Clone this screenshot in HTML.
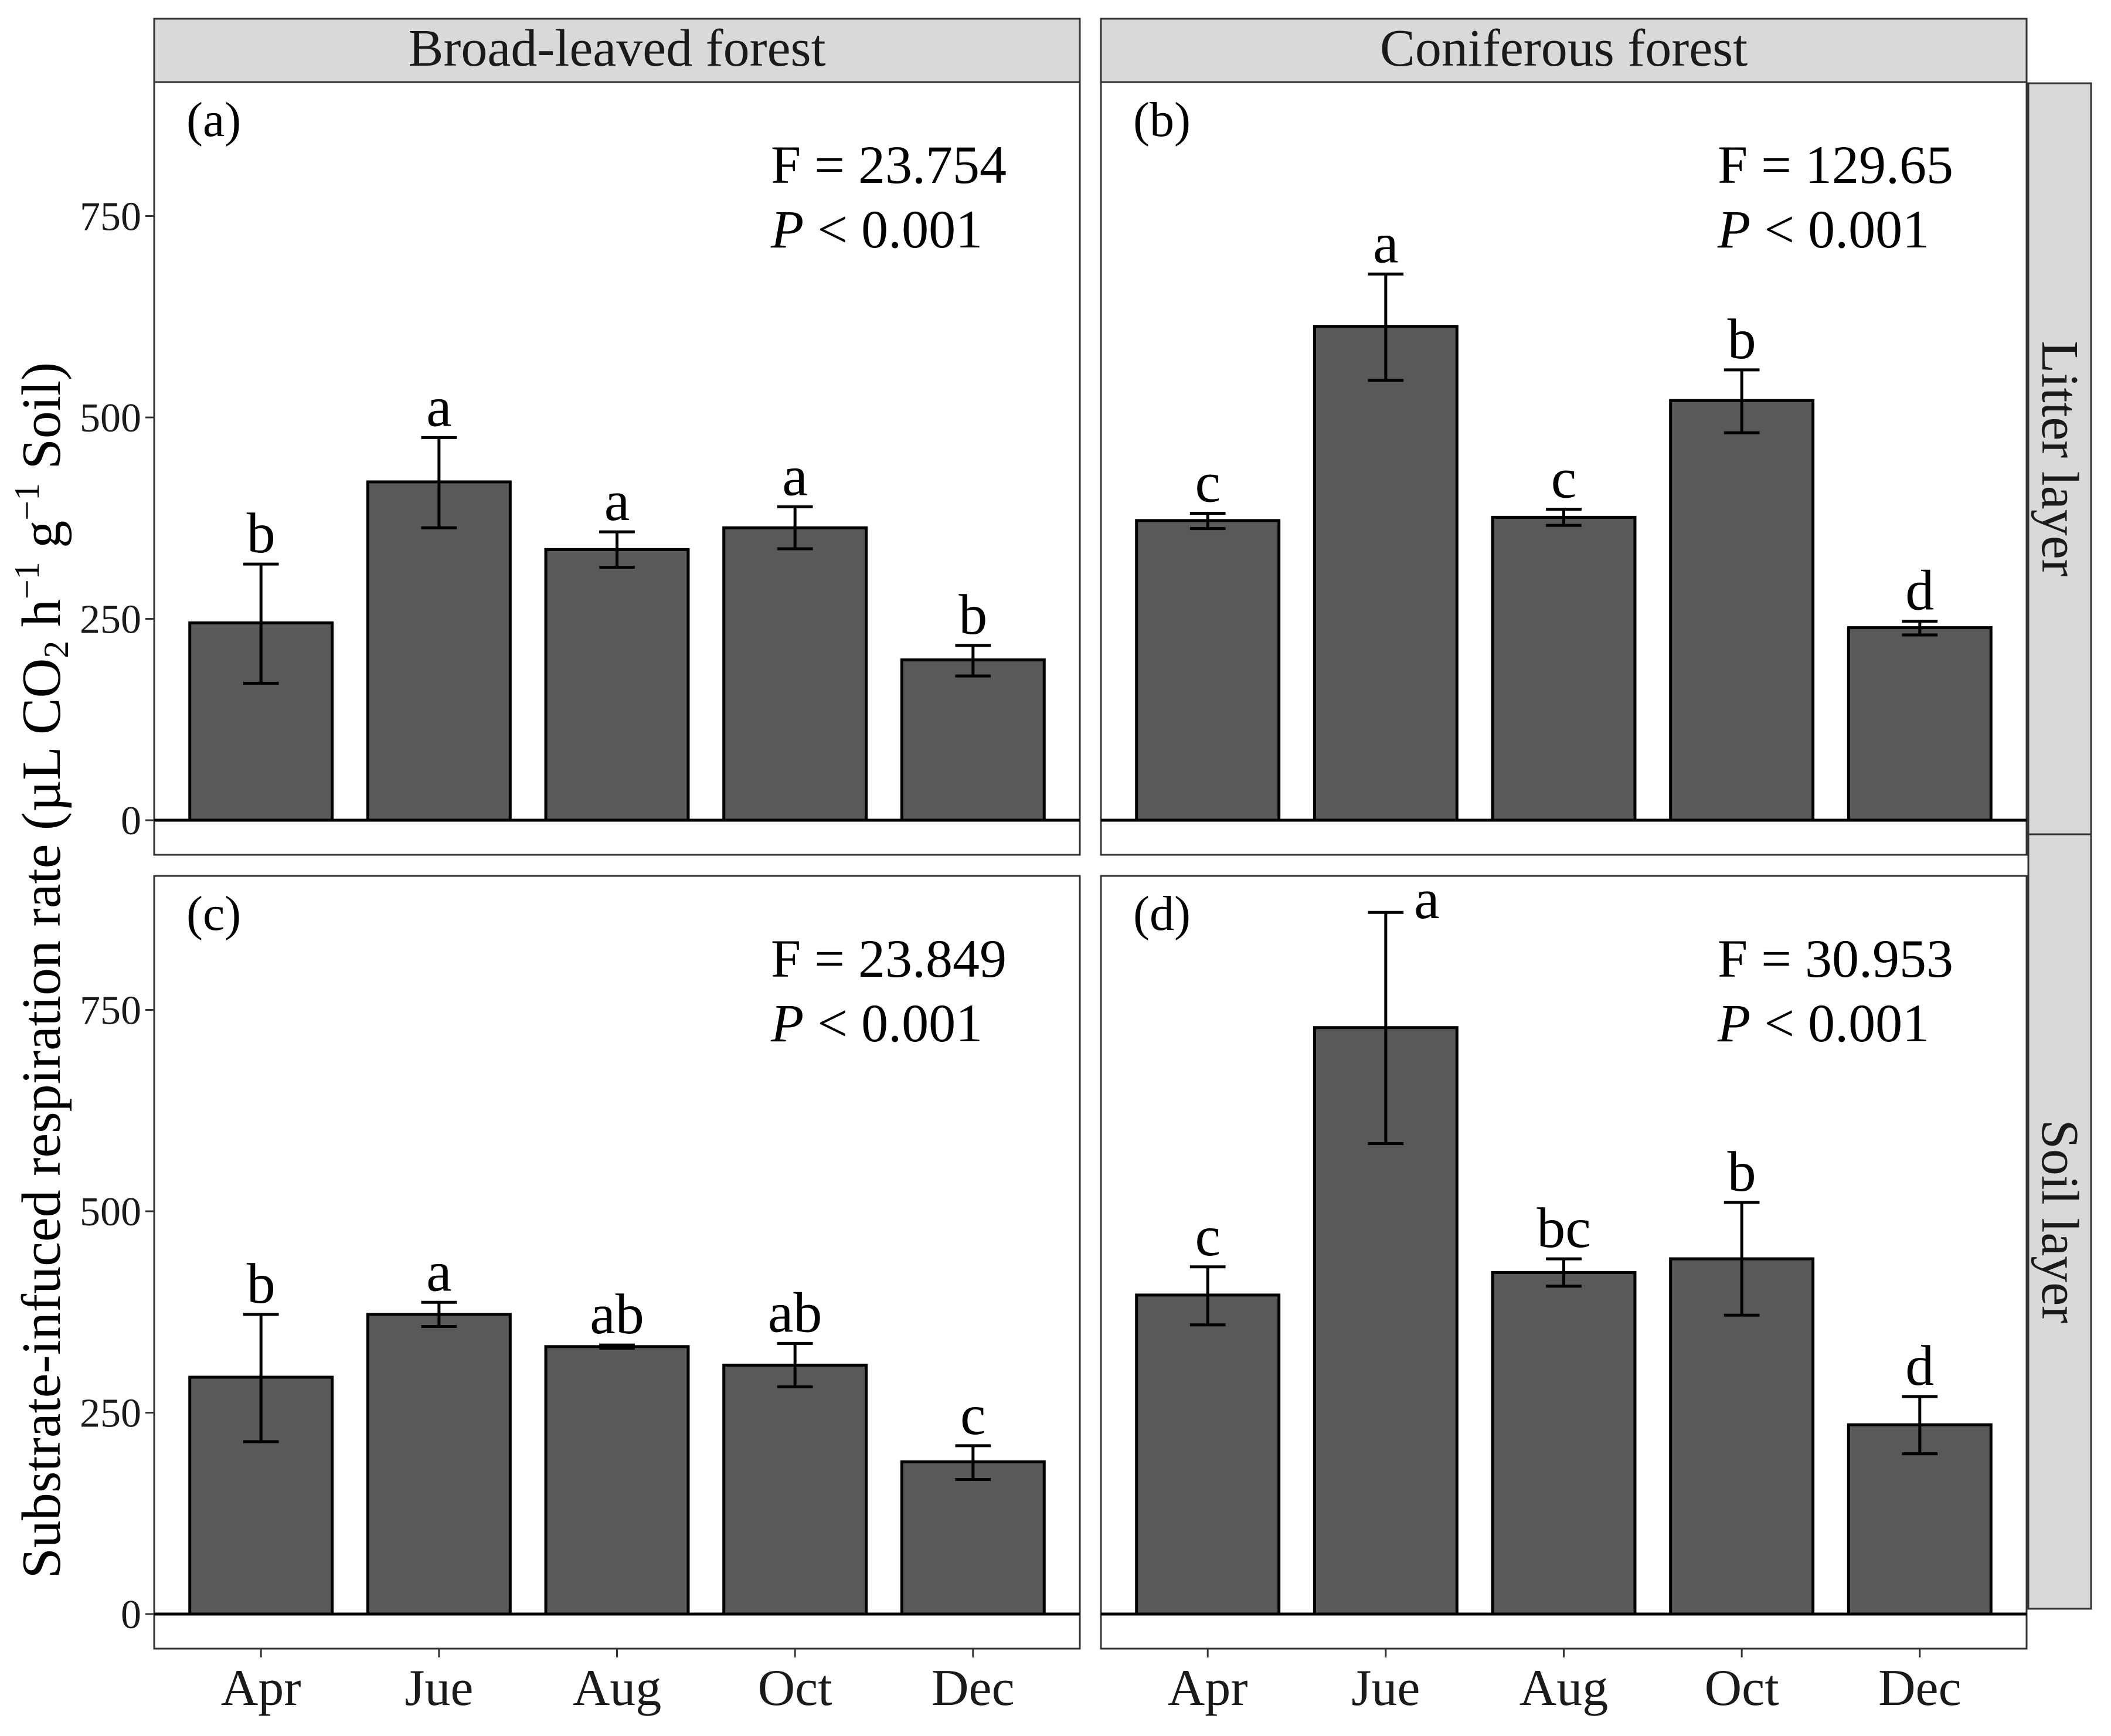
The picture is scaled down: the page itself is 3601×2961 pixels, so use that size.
<!DOCTYPE html>
<html><head><meta charset="utf-8"><style>
body{margin:0;background:#fff}
svg{display:block;font-family:"Liberation Serif",serif}
</style></head><body>
<svg id="chart" width="3601" height="2961" viewBox="0 0 3601 2961" xmlns="http://www.w3.org/2000/svg">
<g>
<text x="0" y="0" transform="translate(102,1655) rotate(-90)" text-anchor="middle" font-size="94" fill="#000">Substrate-infuced respiration rate (µL CO<tspan font-size="60" dy="14">2</tspan><tspan dy="-14"> h</tspan><tspan font-size="60" dy="-36">−1</tspan><tspan dy="36"> g</tspan><tspan font-size="60" dy="-36">−1</tspan><tspan dy="36"> Soil)</tspan></text>
</g>
</svg>
<script>
const categories=["Apr","Jue","Aug","Oct","Dec"];
const meanA=[245,420,336,363,199], loA=[170,363,314,337,179], hiA=[318,475,358,389,217];
const labA=["b","a","a","a","b"];
const meanB=[372,613,376,521,239], loB=[362,546,366,481,230], hiB=[381,678,386,559,247];
const labB=["c","a","c","b","d"];
const meanC=[294,372,332,309,189], loC=[214,357,330,282,167], hiC=[372,387,334,336,209];
const labC=["b","a","ab","ab","c"];
const meanD=[396,728,424,441,235], loD=[359,584,407,371,199], hiD=[431,871,441,511,270];
const labD=["c","a","bc","b","d"];
const yTicks=[0,250,500,750];
const panelTags=["(a)","(b)","(c)","(d)"];
const fStats=["F = 23.754","F = 129.65","F = 23.849","F = 30.953"];
const colStrips=["Broad-leaved forest","Coniferous forest"];
const rowStrips=["Litter layer","Soil layer"];

const NS="http://www.w3.org/2000/svg";
const svg=document.getElementById("chart");
function mk(tag,attrs,parent){const e=document.createElementNS(NS,tag);for(const k in attrs)e.setAttribute(k,attrs[k]);(parent||svg).appendChild(e);return e;}
const PX=[263,1878], PW=1579, PY=[140,1494], PH=1318, ZERO_OFF=1259, PPU=1.374;
const unit=PW/5.2;
function xScale(col,i){return PX[col]+(0.6+i)*unit;}
function yScale(row,v){return PY[row]+ZERO_OFF-v*PPU;}

const panels=[[meanA,loA,hiA,labA],[meanB,loB,hiB,labB],[meanC,loC,hiC,labC],[meanD,loD,hiD,labD]];
colStrips.forEach((t,c)=>{
  const g=mk("g",{});
  
  
  mk("rect",{x:PX[c],y:32,width:PW,height:108,fill:"#d9d9d9",stroke:"#333",'stroke-width':3},g);
  const tx=mk("text",{x:PX[c]+PW/2,y:112,'text-anchor':'middle','font-size':90,fill:"#1a1a1a"},g);tx.textContent=t;
});
const rs=[[142,1423],[1423,2744]];
rowStrips.forEach((t,r)=>{
  const g=mk("g",{});
  
  
  mk("rect",{x:3460,y:rs[r][0],width:107,height:rs[r][1]-rs[r][0],fill:"#d9d9d9",stroke:"#333",'stroke-width':3},g);
  const cy=(rs[r][0]+rs[r][1])/2;
  const tx=mk("text",{x:0,y:0,transform:`translate(3484,${cy}) rotate(90)`,'text-anchor':'middle','font-size':90,fill:"#1a1a1a"},g);tx.textContent=t;
});
panels.forEach((p,k)=>{
  const col=k%2,row=Math.floor(k/2);
  const [mean,lo,hi,lab]=p;
  const g=mk("g",{});
  
  
  mk("rect",{x:PX[col],y:PY[row],width:PW,height:PH,fill:"#fff",stroke:"#333",'stroke-width':3},g);
  const zy=yScale(row,0);
  mean.forEach((v,i)=>{
    const cx=xScale(col,i),bw=0.8*unit;
    const b=mk("rect",{x:cx-bw/2,y:yScale(row,v),width:bw,height:v*PPU,fill:"#595959",stroke:"#000",'stroke-width':5},g);
    
    
    const e=mk("g",{stroke:"#000",'stroke-width':5},g);
    
    
    const yh=yScale(row,hi[i]),yl=yScale(row,lo[i]),cw=0.1*unit;
    mk("line",{x1:cx,x2:cx,y1:yh,y2:yl},e);
    mk("line",{x1:cx-cw,x2:cx+cw,y1:yh,y2:yh},e);
    mk("line",{x1:cx-cw,x2:cx+cw,y1:yl,y2:yl},e);
    let lx=cx,ly=yh-20;
    if(k===3&&i===1){lx=cx+70;ly=yh+10;}
    const t=mk("text",{x:lx,y:ly,'text-anchor':'middle','font-size':98,fill:"#000"},g);
    t.textContent=lab[i];
    
    
  });
  mk("line",{x1:PX[col],x2:PX[col]+PW,y1:zy,y2:zy,stroke:"#000",'stroke-width':5},g);
  const tag=mk("text",{x:PX[col]+55,y:PY[row]+92,'font-size':84,fill:"#000"},g);tag.textContent=panelTags[k];
  
  
  const ft=mk("text",{x:PX[col]+1052,y:PY[row]+172,'font-size':92,fill:"#000"},g);ft.textContent=fStats[k];
  
  
  const pt=mk("text",{x:PX[col]+1052,y:PY[row]+282,'font-size':92,fill:"#000"},g);
  pt.innerHTML='<tspan font-style="italic">P</tspan> &lt; 0.001';
  
  
  if(col===0){
    yTicks.forEach(v=>{
      const y=yScale(row,v);
      mk("line",{x1:PX[0]-15,x2:PX[0],y1:y,y2:y,stroke:"#333",'stroke-width':3},g);
      const t=mk("text",{x:PX[0]-22,y:y+24,'text-anchor':'end','font-size':70,fill:"#1a1a1a"},g);t.textContent=v;
      
      
    });
  }
  if(row===1){
    categories.forEach((c,i)=>{
      const x=xScale(col,i),yb=PY[1]+PH;
      mk("line",{x1:x,x2:x,y1:yb,y2:yb+15,stroke:"#333",'stroke-width':3},g);
      const t=mk("text",{x:x,y:2908,'text-anchor':'middle','font-size':88,fill:"#1a1a1a"},g);t.textContent=c;
      
      
    });
  }
});
</script>
</body></html>
